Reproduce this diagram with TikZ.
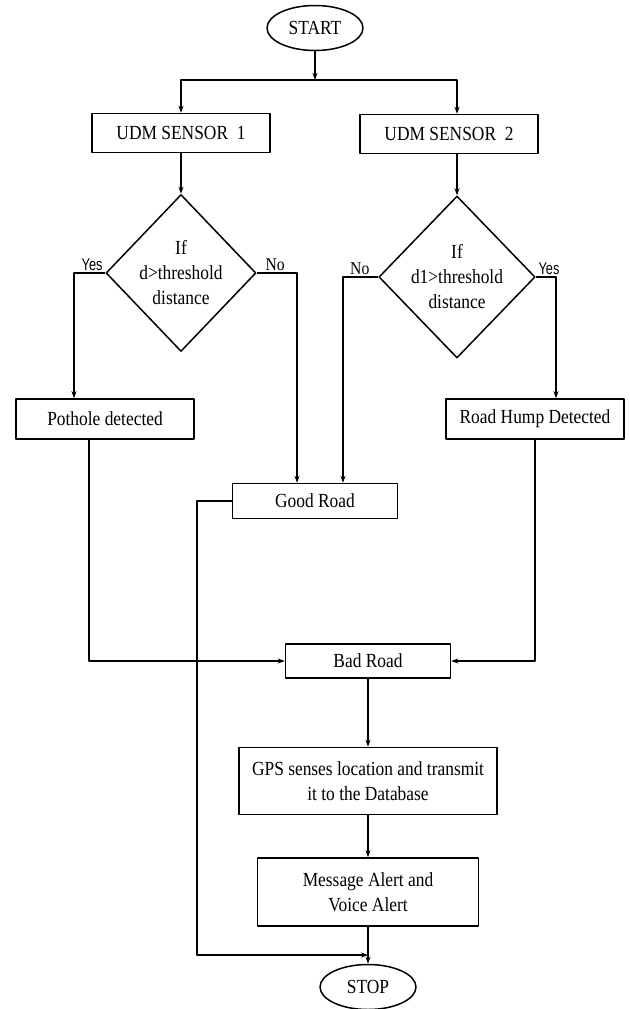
\documentclass[tikz,border=0pt]{standalone}
\usepackage{fontspec}
\setmainfont{Liberation Serif}[FakeStretch=0.87]
\newfontfamily\yesfont{Liberation Sans}[FakeStretch=0.75]
\usetikzlibrary{shapes.geometric,arrows.meta}
\begin{document}
\begin{tikzpicture}[x=1pt,y=-1pt,line join=round,>={Stealth[length=7pt,width=5pt]},line width=1.5pt]
		\tikzset{every node/.style={font=\fontsize{20}{25}\selectfont},
			box/.style={draw,rectangle,inner sep=0pt,align=center},
			term/.style={draw,ellipse,inner sep=0pt,minimum width=96pt,minimum height=45pt},
			cond/.style={draw,diamond,inner sep=0pt,align=center,minimum width=150pt,minimum height=157pt},
			yes/.style={font=\yesfont\fontsize{17}{20}\selectfont,inner sep=2pt},
			no/.style={font=\fontsize{18}{20}\selectfont,inner sep=2pt}}
		\useasboundingbox (0,0) rectangle (629,1009);
		\node[term] (start) at (315,28) {START};
		\node[box,minimum width=178pt,minimum height=39pt] (sone) at (181,133) {UDM SENSOR\ \ 1};
		\node[box,minimum width=178pt,minimum height=39pt] (stwo) at (449,134) {UDM SENSOR\ \ 2};
		\node[cond] (done) at (181,273) {If\\d>threshold\\distance};
		\node[cond,minimum width=149pt,minimum height=162pt] (dtwo) at (457,277) {If\\d1>threshold\\distance};
		\node[box,minimum width=178pt,minimum height=40pt] (pothole) at (105,419) {Pothole detected};
		\node[box,minimum width=178pt,minimum height=40pt] (hump) at (535,419) {Road Hump Detected};
		\node[box,minimum width=165pt,minimum height=35pt] (good) at (315,501) {Good Road};
		\node[box,minimum width=165pt,minimum height=34pt] (bad) at (368,661) {Bad Road};
		\node[box,minimum width=258pt,minimum height=67pt] (gps) at (368,781) {GPS senses location and transmit\\it to the Database};
		\node[box,minimum width=221pt,minimum height=68pt] (msg) at (368,892) {Message Alert and\\Voice Alert};
		\node[term] (stop) at (368,987) {STOP};
		\coordinate (split) at (315,80);
		\coordinate (merge) at (368,955);
		\node[yes,above left] (yone) at (done.west) {Yes};
		\node[no,above right,xshift=6pt] (none) at (done.east) {No};
		\node[no,above left,xshift=-6pt] (ntwo) at (dtwo.west) {No};
		\node[yes,above right] (ytwo) at (dtwo.east) {Yes};
		\draw[->] (start) -- (split);
		\draw[->] (split) -| (sone);
		\draw[->] (split) -| (stwo.north -| dtwo.north);
		\draw[->] (sone) -- (done);
		\draw[->] (stwo.south -| dtwo.north) -- (dtwo);
		\draw[->] (done.west) -| ([xshift=-31pt]pothole.north);
		\draw[->] (done.east) -| ([xshift=-18pt]good.north);
		\draw[->] (dtwo.west) -| ([xshift=28pt]good.north);
		\draw[->] (dtwo.east) -| ([xshift=21pt]hump.north);
		\draw[->] ([xshift=-16pt]pothole.south) |- (bad);
		\draw[->] (hump) |- (bad);
		\draw[->] (good.west) -- ++(-35,0) |- (merge);
		\draw[->] (bad) -- (gps);
		\draw[->] (gps) -- (msg);
		\draw[->] (msg) -- (stop);
	\end{tikzpicture}
\end{document}
